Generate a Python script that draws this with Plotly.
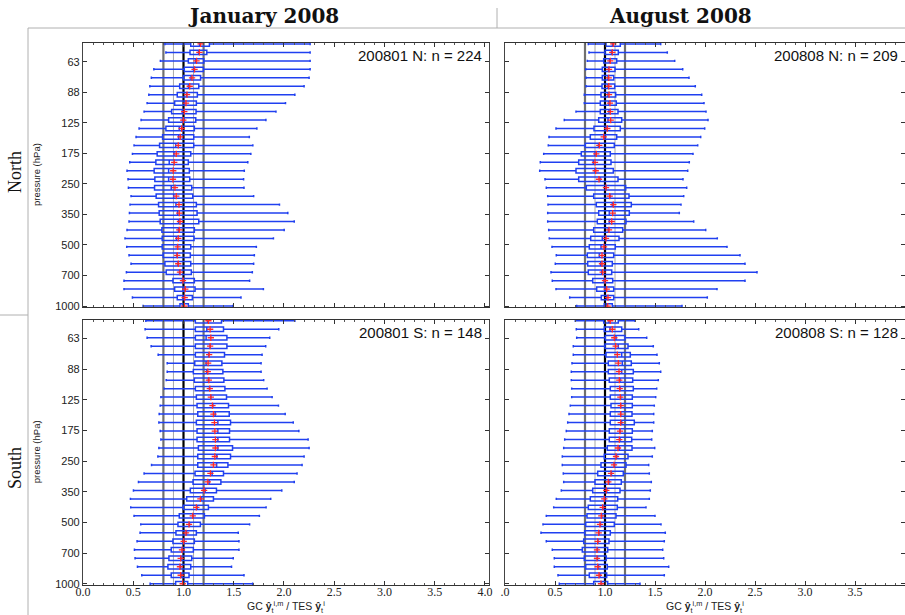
import math
import plotly.graph_objects as go

# ---------------- data (level index 0 = 1000 hPa, upward; 24 levels per decade) ----------------
LEVEL_INDEX = list(range(32))

YTICK_LABELS = ["1000", "700", "500", "350", "250", "175", "125", "88", "63"]

# January 2008, North
JAN_N_LO = [0.598, 0.492, 0.408, 0.408, 0.432, 0.478, 0.458, 0.435, 0.418, 0.438,
            0.458, 0.462, 0.468, 0.478, 0.452, 0.448, 0.438, 0.465, 0.492, 0.508,
            0.528, 0.558, 0.578, 0.608, 0.638, 0.655, 0.665, 0.680, 0.705, 0.770,
            0.825, 0.815]
JAN_N_Q1 = [0.965, 0.938, 0.912, 0.895, 0.828, 0.815, 0.798, 0.788, 0.788, 0.785,
            0.768, 0.758, 0.752, 0.728, 0.712, 0.715, 0.708, 0.725, 0.738, 0.762,
            0.792, 0.825, 0.852, 0.882, 0.912, 0.938, 0.962, 1.000, 1.008, 1.048,
            1.065, 1.072]
JAN_N_MED = [0.990, 0.995, 1.000, 0.990, 0.960, 0.945, 0.935, 0.940, 0.930, 0.950,
             0.952, 0.942, 0.925, 0.902, 0.878, 0.852, 0.852, 0.858, 0.905, 0.922,
             0.952, 0.958, 0.990, 0.988, 1.010, 1.030, 1.050, 1.075, 1.100, 1.120,
             1.150, 1.160]
JAN_N_Q3 = [1.048, 1.088, 1.115, 1.108, 1.078, 1.072, 1.068, 1.072, 1.105, 1.108,
            1.152, 1.135, 1.128, 1.092, 1.082, 1.062, 1.058, 1.048, 1.072, 1.102,
            1.102, 1.108, 1.122, 1.125, 1.128, 1.138, 1.152, 1.170, 1.198, 1.202,
            1.232, 1.258]
JAN_N_HI = [1.492, 1.572, 1.795, 1.658, 1.685, 1.698, 1.705, 1.725, 1.895, 2.002,
            2.102, 2.038, 1.955, 1.698, 1.602, 1.598, 1.605, 1.640, 1.670, 1.690,
            1.655, 1.730, 1.820, 1.920, 2.015, 2.108, 2.200, 2.250, 2.260, 2.260,
            2.260, 2.260]
JAN_N_MEAN = [1.008, 1.012, 1.018, 0.995, 0.965, 0.948, 0.938, 0.942, 0.948, 0.958,
              0.965, 0.958, 0.955, 0.928, 0.915, 0.895, 0.898, 0.908, 0.928, 0.948,
              0.968, 0.982, 0.998, 1.008, 1.025, 1.035, 1.062, 1.085, 1.110, 1.130,
              1.158, 1.170]

# January 2008, South
JAN_S_LO = [0.668, 0.585, 0.542, 0.518, 0.512, 0.538, 0.568, 0.575, 0.508, 0.475,
            0.472, 0.502, 0.552, 0.608, 0.682, 0.745, 0.755, 0.775, 0.768, 0.755,
            0.758, 0.768, 0.775, 0.808, 0.828, 0.838, 0.838, 0.748, 0.678, 0.638,
            0.618, 0.625]
JAN_S_Q1 = [0.922, 0.878, 0.845, 0.855, 0.878, 0.895, 0.925, 0.945, 0.958, 0.998,
            1.032, 1.068, 1.095, 1.115, 1.142, 1.142, 1.148, 1.135, 1.135, 1.128,
            1.142, 1.135, 1.128, 1.118, 1.108, 1.098, 1.112, 1.118, 1.118, 1.118,
            1.118, 1.118]
JAN_S_MED = [0.995, 0.980, 0.970, 0.975, 0.990, 1.005, 1.030, 1.060, 1.095, 1.135,
             1.175, 1.215, 1.255, 1.285, 1.330, 1.332, 1.342, 1.342, 1.342, 1.342,
             1.315, 1.292, 1.272, 1.258, 1.248, 1.232, 1.225, 1.250, 1.265, 1.225,
             1.232, 1.240]
JAN_S_Q3 = [1.042, 1.055, 1.072, 1.082, 1.098, 1.108, 1.128, 1.168, 1.208, 1.248,
            1.298, 1.328, 1.372, 1.398, 1.442, 1.468, 1.488, 1.458, 1.458, 1.468,
            1.455, 1.448, 1.428, 1.412, 1.402, 1.392, 1.382, 1.408, 1.432, 1.432,
            1.398, 1.378]
JAN_S_HI = [1.688, 1.602, 1.478, 1.495, 1.552, 1.552, 1.545, 1.658, 1.755, 1.822,
            1.868, 1.978, 2.102, 2.130, 2.180, 2.200, 2.250, 2.240, 2.148, 2.092,
            2.012, 1.945, 1.882, 1.832, 1.798, 1.772, 1.772, 1.782, 1.818, 1.858,
            1.948, 2.108]
JAN_S_MEAN = [0.992, 0.972, 0.965, 0.972, 0.985, 1.002, 1.025, 1.055, 1.092, 1.128,
              1.168, 1.205, 1.242, 1.268, 1.298, 1.312, 1.318, 1.318, 1.312, 1.308,
              1.298, 1.288, 1.272, 1.262, 1.252, 1.242, 1.245, 1.255, 1.265, 1.272,
              1.265, 1.248]

# August 2008, North
AUG_N_LO = [0.717, 0.647, 0.510, 0.473, 0.460, 0.503, 0.513, 0.470, 0.443, 0.437,
            0.427, 0.427, 0.430, 0.427, 0.413, 0.400, 0.347, 0.353, 0.387, 0.433,
            0.440, 0.510, 0.593, 0.710, 0.793, 0.793, 0.810, 0.810, 0.807, 0.823,
            0.840, 0.833]
AUG_N_Q1 = [0.993, 0.963, 0.917, 0.877, 0.833, 0.827, 0.823, 0.843, 0.857, 0.887,
            0.923, 0.937, 0.913, 0.887, 0.813, 0.737, 0.710, 0.737, 0.763, 0.803,
            0.853, 0.890, 0.937, 0.953, 0.953, 0.960, 0.970, 0.973, 0.973, 0.987,
            1.000, 1.010]
AUG_N_MED = [1.017, 1.017, 1.000, 0.990, 0.967, 0.957, 0.943, 0.960, 0.973, 1.033,
             1.043, 1.043, 1.073, 1.050, 1.010, 0.950, 0.900, 0.883, 0.900, 0.935,
             1.000, 1.010, 1.030, 1.040, 1.040, 1.030, 1.030, 1.030, 1.035, 1.045,
             1.065, 1.075]
AUG_N_Q3 = [1.073, 1.087, 1.087, 1.077, 1.067, 1.073, 1.087, 1.103, 1.140, 1.177,
            1.210, 1.243, 1.263, 1.240, 1.207, 1.130, 1.083, 1.060, 1.053, 1.093,
            1.117, 1.153, 1.167, 1.130, 1.113, 1.107, 1.097, 1.087, 1.100, 1.117,
            1.133, 1.153]
AUG_N_HI = [1.770, 2.023, 2.120, 2.400, 2.520, 2.400, 2.350, 2.220, 2.123, 2.007,
            1.887, 1.743, 1.760, 1.787, 1.817, 1.780, 1.827, 1.843, 1.880, 1.927,
            1.957, 1.997, 2.030, 2.010, 1.990, 1.967, 1.903, 1.840, 1.777, 1.697,
            1.623, 1.557]
AUG_N_MEAN = [1.027, 1.030, 1.017, 1.000, 0.977, 0.970, 0.970, 0.990, 1.010, 1.040,
              1.067, 1.077, 1.083, 1.047, 1.010, 0.940, 0.907, 0.900, 0.913, 0.943,
              0.987, 1.023, 1.057, 1.053, 1.050, 1.040, 1.037, 1.037, 1.040, 1.053,
              1.073, 1.083]

# August 2008, South
AUG_S_LO = [0.543, 0.530, 0.493, 0.493, 0.473, 0.413, 0.360, 0.380, 0.413, 0.487,
            0.513, 0.563, 0.587, 0.583, 0.573, 0.573, 0.587, 0.597, 0.613, 0.627,
            0.640, 0.653, 0.667, 0.667, 0.663, 0.663, 0.670, 0.683, 0.683, 0.717,
            0.713, 0.703]
AUG_S_Q1 = [0.887, 0.843, 0.807, 0.793, 0.773, 0.787, 0.797, 0.807, 0.820, 0.833,
            0.853, 0.877, 0.900, 0.927, 0.960, 0.993, 1.023, 1.043, 1.043, 1.053,
            1.053, 1.060, 1.053, 1.053, 1.043, 1.033, 1.033, 1.010, 1.000, 1.003,
            0.993, 0.987]
AUG_S_MED = [0.965, 0.950, 0.935, 0.925, 0.925, 0.930, 0.940, 0.955, 0.968, 0.980,
             0.998, 1.018, 1.040, 1.065, 1.095, 1.117, 1.143, 1.150, 1.150, 1.167,
             1.157, 1.157, 1.157, 1.150, 1.150, 1.167, 1.173, 1.167, 1.133, 1.110,
             1.050, 1.040]
AUG_S_Q3 = [1.027, 1.017, 1.023, 1.013, 1.027, 1.040, 1.053, 1.093, 1.110, 1.123,
            1.127, 1.150, 1.163, 1.183, 1.210, 1.230, 1.270, 1.267, 1.273, 1.293,
            1.270, 1.273, 1.273, 1.283, 1.277, 1.283, 1.263, 1.253, 1.230, 1.200,
            1.167, 1.133]
AUG_S_HI = [1.350, 1.593, 1.637, 1.587, 1.577, 1.593, 1.603, 1.560, 1.500, 1.410,
            1.443, 1.453, 1.463, 1.443, 1.437, 1.473, 1.497, 1.467, 1.473, 1.487,
            1.487, 1.493, 1.507, 1.517, 1.533, 1.557, 1.543, 1.520, 1.483, 1.417,
            1.337, 1.300]
AUG_S_MEAN = [0.960, 0.940, 0.927, 0.920, 0.920, 0.927, 0.937, 0.950, 0.963, 0.977,
              0.993, 1.013, 1.033, 1.060, 1.090, 1.110, 1.130, 1.143, 1.150, 1.157,
              1.157, 1.157, 1.153, 1.147, 1.143, 1.140, 1.133, 1.123, 1.107, 1.093,
              1.073, 1.053]

PANEL_LABELS = ["200801 N: n = 224", "200808 N: n = 209",
                "200801 S: n = 148", "200808 S: n = 128"]
COLUMN_TITLES = ["January 2008", "August 2008"]
ROW_TITLES = ["North", "South"]
REF_LINES = [0.8, 0.9, 1.0, 1.1, 1.2]
XTICK_VALUES = [0.0, 0.5, 1.0, 1.5, 2.0, 2.5, 3.0, 3.5, 4.0]
XTICK_LEFT = ["0.0", "0.5", "1.0", "1.5", "2.0", "2.5", "3.0", "3.5", "4.0"]
XTICK_RIGHT = [".0", "0.5", "1.0", "1.5", "2.0", "2.5", "3.0", "3.5", "4"]

# ---------------- layout helpers ----------------
W, H = 905, 615
BLUE = "#2040f0"
RED = "#ff2a2a"

def px_x(x):
    return x / W

def px_y(y):
    return 1 - y / H

panels = [
    ((JAN_N_LO, JAN_N_Q1, JAN_N_MED, JAN_N_Q3, JAN_N_HI, JAN_N_MEAN), "x", "y",
     (83, 489), (42.7, 307.3), [0, 4.04], PANEL_LABELS[0], True, False),
    ((AUG_N_LO, AUG_N_Q1, AUG_N_MED, AUG_N_Q3, AUG_N_HI, AUG_N_MEAN), "x2", "y2",
     (505, 905), (42.7, 307.3), [0, 4.0], PANEL_LABELS[1], False, False),
    ((JAN_S_LO, JAN_S_Q1, JAN_S_MED, JAN_S_Q3, JAN_S_HI, JAN_S_MEAN), "x3", "y3",
     (83, 489), (319.5, 585.0), [0, 4.04], PANEL_LABELS[2], True, True),
    ((AUG_S_LO, AUG_S_Q1, AUG_S_MED, AUG_S_Q3, AUG_S_HI, AUG_S_MEAN), "x4", "y4",
     (505, 905), (319.5, 585.0), [0, 4.0], PANEL_LABELS[3], False, True),
]

ytickvals = [24 * math.log10(2 ** (j / 2)) for j in range(len(YTICK_LABELS))]

fig = go.Figure()
layout = dict(
    width=W, height=H, margin=dict(l=0, r=0, t=0, b=0, pad=0, autoexpand=False),
    paper_bgcolor="white", plot_bgcolor="white", showlegend=False,
    shapes=[], annotations=[],
)

for (lo, q1, med, q3, hi, mean), xa, ya, xd, yd, xr, label, is_left, is_bottom in panels:
    fig.add_trace(go.Box(
        y=LEVEL_INDEX, q1=q1, median=med, q3=q3, lowerfence=lo, upperfence=hi,
        orientation="h", width=0.52, whiskerwidth=0.55,
        line=dict(color=BLUE, width=1.5), fillcolor="rgba(255,255,255,0)",
        boxpoints=False, hoverinfo="skip", xaxis=xa, yaxis=ya,
    ))
    fig.add_trace(go.Scatter(
        x=mean, y=LEVEL_INDEX, mode="markers",
        marker=dict(symbol="cross-thin", size=4.5, line=dict(color=RED, width=1.3)),
        hoverinfo="skip", xaxis=xa, yaxis=ya,
    ))
    xkey = "xaxis" + xa[1:]
    ykey = "yaxis" + ya[1:]
    layout[xkey] = dict(
        domain=[px_x(xd[0]), px_x(xd[1])], range=xr, anchor=ya,
        tickvals=XTICK_VALUES, ticktext=XTICK_LEFT if is_left else XTICK_RIGHT,
        showticklabels=is_bottom, automargin=False, ticklabelstandoff=-4,
        ticks="inside", ticklen=4, tickwidth=1, tickcolor="#333",
        minor=dict(dtick=0.1, tick0=0, ticks="inside", ticklen=2, tickcolor="#555"),
        mirror="allticks", showline=True, linecolor="#333", linewidth=1,
        showgrid=False, zeroline=False,
        tickfont=dict(family="Liberation Serif", size=12, color="#222"),
    )
    layout[ykey] = dict(
        domain=[px_y(yd[1]), px_y(yd[0])], range=[-0.15, 31.15], anchor=xa,
        tickvals=ytickvals, ticktext=YTICK_LABELS, showticklabels=is_left,
        automargin=False,
        ticks="inside", ticklen=4, tickwidth=1, tickcolor="#333",
        mirror="allticks", showline=True, linecolor="#444", linewidth=1.3,
        showgrid=False, zeroline=False,
        tickfont=dict(family="Liberation Sans", size=11, color="#222"),
    )
    for v in REF_LINES:
        if v == 1.0:
            col, wid = "#000000", 2.2
        elif v in (0.8, 1.2):
            col, wid = "#707070", 2.2
        else:
            col, wid = "#a8a8a8", 1.0
        layout["shapes"].append(dict(
            type="line", xref=xa, yref=ya + " domain", x0=v, x1=v, y0=0, y1=1,
            line=dict(color=col, width=wid), layer="below"))
    layout["annotations"].append(dict(
        text=label, xref="paper", yref="paper",
        x=px_x(xd[1] - 5), y=px_y(yd[0] + 13), xanchor="right", yanchor="middle",
        showarrow=False, font=dict(family="Liberation Sans", size=15, color="#111")))
    if is_left:
        layout["annotations"].append(dict(
            text="pressure (hPa)", xref="paper", yref="paper", textangle=-90,
            x=px_x(36), y=px_y((yd[0] + yd[1]) / 2), xanchor="center", yanchor="middle",
            showarrow=False, font=dict(family="Liberation Sans", size=9.5, color="#222")))
    if is_bottom:
        layout["annotations"].append(dict(
            text="GC <b>ŷ</b><sub>t</sub><sup>i,m</sup> / TES <b>ŷ</b><sub>t</sub><sup>i</sup>",
            xref="paper", yref="paper",
            x=px_x((xd[0] + xd[1]) / 2), y=px_y(607), xanchor="center", yanchor="middle",
            showarrow=False, font=dict(family="Liberation Sans", size=10.5, color="#222")))

for title, cx in zip(COLUMN_TITLES, (263, 680)):
    layout["annotations"].append(dict(
        text="<b>" + title + "</b>", xref="paper", yref="paper",
        x=px_x(cx), y=px_y(16), xanchor="center", yanchor="middle", showarrow=False,
        font=dict(family="DejaVu Serif", size=20, color="#111")))
for title, cy in zip(ROW_TITLES, (172, 468)):
    layout["annotations"].append(dict(
        text=title, xref="paper", yref="paper", textangle=-90,
        x=px_x(15), y=px_y(cy), xanchor="center", yanchor="middle", showarrow=False,
        font=dict(family="Liberation Serif", size=18, color="#111")))

GRAY = "#b0b0b0"
for (x0, y0, x1, y1) in [(28, 28, 905, 28), (28, 28, 28, 615), (0, 315, 28, 315), (497, 8, 497, 28)]:
    layout["shapes"].append(dict(
        type="line", xref="paper", yref="paper",
        x0=px_x(x0), y0=px_y(y0), x1=px_x(x1), y1=px_y(y1),
        line=dict(color=GRAY, width=1)))

fig.update_layout(**layout)
fig.write_html("out.html")
